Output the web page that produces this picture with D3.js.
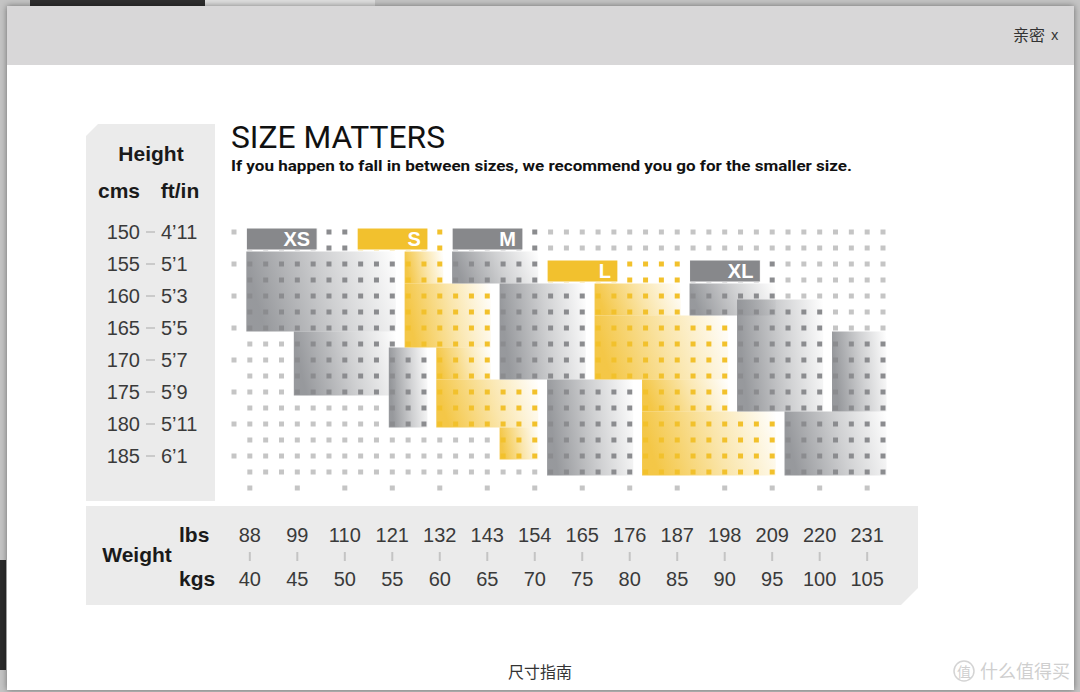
<!DOCTYPE html>
<html>
<head>
<meta charset="utf-8">
<script src="https://cdn.jsdelivr.net/npm/d3@7"></script>
<style>
  html, body { margin: 0; padding: 0; background: #c4c4c4; }
  svg { display: block; }
</style>
</head>
<body>
<script>
const heightCms = [150, 155, 160, 165, 170, 175, 180, 185];
const heightFtIn = ["4’11", "5’1", "5’3", "5’5", "5’7", "5’9", "5’11", "6’1"];
const weightLbs = [88, 99, 110, 121, 132, 143, 154, 165, 176, 187, 198, 209, 220, 231];
const weightKgs = [40, 45, 50, 55, 60, 65, 70, 75, 80, 85, 90, 95, 100, 105];

const sizeNames = ["XS", "S", "M", "L", "XL"];
const sizeTone = ["grey", "yellow", "grey", "yellow", "grey"];
// label tab of each size: [first column, first row] on the dot grid
const sizeTabs = [[1, 0], [8, 0], [14, 0], [20, 2], [29, 2]];
// grid cells each size covers: [col from, col to, row from, row to]
const xsCells = [[1, 7, 0, 1], [1, 10, 2, 6], [4, 10, 7, 10], [10, 12, 8, 12]];
const sCells = [[8, 13, 0, 1], [11, 13, 2, 3], [11, 16, 4, 7], [13, 16, 8, 9], [13, 19, 10, 12], [17, 19, 13, 14]];
const mCells = [[14, 19, 0, 1], [14, 19, 2, 3], [17, 22, 4, 9], [20, 25, 10, 15]];
const lCells = [[20, 28, 2, 3], [23, 28, 4, 5], [23, 31, 6, 9], [26, 31, 10, 11], [26, 34, 12, 15]];
const xlCells = [[29, 34, 2, 3], [29, 34, 4, 5], [32, 37, 5, 11], [38, 41, 7, 11], [35, 41, 12, 15]];

const width = 1080, height = 692;
const nCols = 42, nRows = 17;

const x = d3.scaleLinear().domain([0, nCols - 1]).range([234, 883]);
const y = d3.scaleLinear().domain([0, nRows - 1]).range([232, 488]);

const tones = {
  grey: { base: "#8e9094", tab: "#87888b", dot: "#8b8c8f" },
  yellow: { base: "#f3c237", tab: "#f2c12e", dot: "#f2c12c" }
};

const regions = sizeNames.map((name, i) => ({
  name: name,
  tone: sizeTone[i],
  tab: sizeTabs[i],
  cells: [xsCells, sCells, mCells, lCells, xlCells][i]
}));

function regionAt(c, r) {
  return regions.find(g => g.cells.some(b => c >= b[0] && c <= b[1] && r >= b[2] && r <= b[3]));
}

const svg = d3.select("body").append("svg")
  .attr("width", width)
  .attr("height", height);

const defs = svg.append("defs");
Object.keys(tones).forEach(k => {
  const g = defs.append("linearGradient").attr("id", "fade-" + k)
    .attr("x1", 0).attr("y1", 0.15).attr("x2", 1).attr("y2", 0);
  g.append("stop").attr("offset", 0).attr("stop-color", tones[k].base).attr("stop-opacity", 0.92);
  g.append("stop").attr("offset", 0.5).attr("stop-color", tones[k].base).attr("stop-opacity", 0.42);
  g.append("stop").attr("offset", 1).attr("stop-color", tones[k].base).attr("stop-opacity", 0);
});
const shadow = defs.append("filter").attr("id", "shadow")
  .attr("x", -0.05).attr("y", -0.05).attr("width", 1.1).attr("height", 1.1);
shadow.append("feDropShadow").attr("dx", 0).attr("dy", 0).attr("stdDeviation", 3)
  .attr("flood-color", "#000").attr("flood-opacity", 0.45);

// page behind the dialog
svg.append("rect").attr("width", width).attr("height", height).attr("fill", "#c4c4c4");
svg.append("rect").attr("x", 30).attr("y", 0).attr("width", 175).attr("height", 8).attr("fill", "#2e2e2e");
svg.append("rect").attr("x", 205).attr("y", 0).attr("width", 170).attr("height", 8).attr("fill", "#dedede");
svg.append("rect").attr("x", 0).attr("y", 560).attr("width", 6).attr("height", 110).attr("fill", "#2a2a2a");

// dialog
const modal = svg.append("g");
modal.append("rect").attr("x", 7).attr("y", 6).attr("width", 1067).attr("height", 684)
  .attr("fill", "#fff").attr("filter", "url(#shadow)");
modal.append("rect").attr("x", 7).attr("y", 6).attr("width", 1067).attr("height", 59)
  .attr("fill", "#d8d7d8");
modal.append("text").attr("x", 1045).attr("y", 41).attr("text-anchor", "end")
  .style("font-family", "'Noto Sans CJK SC'").style("font-size", "16px").attr("fill", "#333")
  .text("亲密");
modal.append("text").attr("x", 1051).attr("y", 40)
  .style("font-family", "'Noto Sans'").style("font-size", "14px").attr("fill", "#333")
  .text("x");
modal.append("text").attr("x", 540).attr("y", 678).attr("text-anchor", "middle")
  .style("font-family", "'Noto Sans CJK SC'").style("font-size", "16px").attr("fill", "#333")
  .text("尺寸指南");
modal.append("circle").attr("cx", 964).attr("cy", 671).attr("r", 10)
  .attr("fill", "none").attr("stroke", "#d4d4d4").attr("stroke-width", 1.5);
modal.append("text").attr("x", 964).attr("y", 677).attr("text-anchor", "middle")
  .style("font-family", "'Noto Sans CJK SC'").style("font-size", "14px").attr("fill", "#cfcfcf")
  .text("值");
modal.append("text").attr("x", 980).attr("y", 678)
  .style("font-family", "'Noto Sans CJK SC'").style("font-size", "18px").attr("fill", "#cfcfcf")
  .text("什么值得买");

// side panels
svg.append("path")
  .attr("d", "M98,124 L215,124 L215,501 L86,501 L86,136 Z")
  .attr("fill", "#ebebeb");
svg.append("path")
  .attr("d", "M86,506 L918,506 L918,588 L901,605 L86,605 Z")
  .attr("fill", "#ebebeb");

const boldFont = "'Liberation Sans', Arial, sans-serif";

// title
svg.append("text").attr("x", 231).attr("y", 148)
  .attr("textLength", 214).attr("lengthAdjust", "spacingAndGlyphs")
  .style("font-family", "Roboto").style("font-size", "32px").attr("fill", "#111")
  .text("SIZE MATTERS");
svg.append("text").attr("x", 231).attr("y", 171)
  .attr("textLength", 621).attr("lengthAdjust", "spacingAndGlyphs")
  .style("font-family", "Roboto").style("font-weight", "bold").style("font-size", "15px").attr("fill", "#111")
  .text("If you happen to fall in between sizes, we recommend you go for the smaller size.");

// height axis
const hAxis = svg.append("g").style("font-family", boldFont);
hAxis.append("text").attr("x", 151).attr("y", 161).attr("text-anchor", "middle")
  .style("font-weight", "bold").style("font-size", "21px").attr("fill", "#1a1a1a").text("Height");
hAxis.append("text").attr("x", 119).attr("y", 198).attr("text-anchor", "middle")
  .style("font-weight", "bold").style("font-size", "21px").attr("fill", "#1a1a1a").text("cms");
hAxis.append("text").attr("x", 180).attr("y", 198).attr("text-anchor", "middle")
  .style("font-weight", "bold").style("font-size", "21px").attr("fill", "#1a1a1a").text("ft/in");

const hRows = hAxis.selectAll(".hrow").data(heightCms).join("g")
  .attr("class", "hrow")
  .attr("transform", (d, i) => `translate(0, ${y(i * 2)})`);
hRows.append("text").attr("x", 140).attr("y", 7).attr("text-anchor", "end")
  .style("font-size", "20px").attr("fill", "#3a3a3a").text(d => d);
hRows.append("line").attr("x1", 146).attr("x2", 155).attr("y1", 0).attr("y2", 0)
  .attr("stroke", "#cacaca").attr("stroke-width", 2);
hRows.append("text").attr("x", 161).attr("y", 7)
  .style("font-size", "20px").attr("fill", "#3a3a3a").text((d, i) => heightFtIn[i]);

// weight axis
const wAxis = svg.append("g").style("font-family", boldFont);
wAxis.append("text").attr("x", 137).attr("y", 562).attr("text-anchor", "middle")
  .style("font-weight", "bold").style("font-size", "21px").attr("fill", "#1a1a1a").text("Weight");
wAxis.append("text").attr("x", 179).attr("y", 542)
  .style("font-weight", "bold").style("font-size", "21px").attr("fill", "#1a1a1a").text("lbs");
wAxis.append("text").attr("x", 179).attr("y", 586)
  .style("font-weight", "bold").style("font-size", "21px").attr("fill", "#1a1a1a").text("kgs");

const wCols = wAxis.selectAll(".wcol").data(weightKgs).join("g")
  .attr("class", "wcol")
  .attr("transform", (d, i) => `translate(${x(1 + i * 3)}, 0)`);
wCols.append("text").attr("y", 542).attr("text-anchor", "middle")
  .style("font-size", "20px").attr("fill", "#3a3a3a").text((d, i) => weightLbs[i]);
wCols.append("line").attr("y1", 552).attr("y2", 561)
  .attr("stroke", "#c4c4c4").attr("stroke-width", 2);
wCols.append("text").attr("y", 586).attr("text-anchor", "middle")
  .style("font-size", "20px").attr("fill", "#3a3a3a").text(d => d);

// size areas: faded blocks
const blocks = [];
regions.forEach(g => {
  g.cells.forEach(b => {
    if (b[2] === g.tab[1]) return; // rows of the label tab keep a plain background
    blocks.push({ tone: g.tone, b: b });
  });
});
svg.append("g").selectAll("rect").data(blocks).join("rect")
  .attr("x", d => x(d.b[0]) - 3.5)
  .attr("y", d => y(d.b[2]) - 12.5)
  .attr("width", d => x(d.b[1]) - x(d.b[0]) + 7)
  .attr("height", d => y(d.b[3]) - y(d.b[2]) + 16)
  .attr("fill", d => "url(#fade-" + d.tone + ")");

// dot grid
const dots = [];
for (let r = 0; r < nRows; r++) {
  for (let c = 0; c < nCols; c++) {
    let show;
    if (r === nRows - 1) show = c >= 1 && (c - 1) % 3 === 0;
    else if (c === 0) show = r % 2 === 0;
    else show = true;
    if (!show) continue;
    const g = regionAt(c, r);
    dots.push({ c: c, r: r, fill: g ? tones[g.tone].dot : "#c5c5c5" });
  }
}
const dotSize = 5;
svg.append("g").selectAll("rect").data(dots).join("rect")
  .attr("x", d => x(d.c) - dotSize / 2)
  .attr("y", d => y(d.r) - dotSize / 2)
  .attr("width", dotSize)
  .attr("height", dotSize)
  .attr("fill", d => d.fill);

// size label tabs
const tabs = svg.append("g").selectAll("g").data(regions).join("g");
tabs.append("rect")
  .attr("x", d => x(d.tab[0]) - 3.5)
  .attr("y", d => y(d.tab[1]) - 4)
  .attr("width", d => x(d.tab[0] + 4) - x(d.tab[0]) + 7.5)
  .attr("height", d => y(d.tab[1] + 1) - y(d.tab[1]) + 6)
  .attr("fill", d => tones[d.tone].tab)
  .attr("stroke", "#fff").attr("stroke-width", 1);
tabs.append("text")
  .attr("x", d => x(d.tab[0] + 4) - 3)
  .attr("y", d => y(d.tab[1] + 1) - 2)
  .attr("text-anchor", "end")
  .style("font-family", boldFont).style("font-weight", "bold").style("font-size", "20px")
  .attr("fill", "#fff")
  .text(d => d.name);
</script>
</body>
</html>
